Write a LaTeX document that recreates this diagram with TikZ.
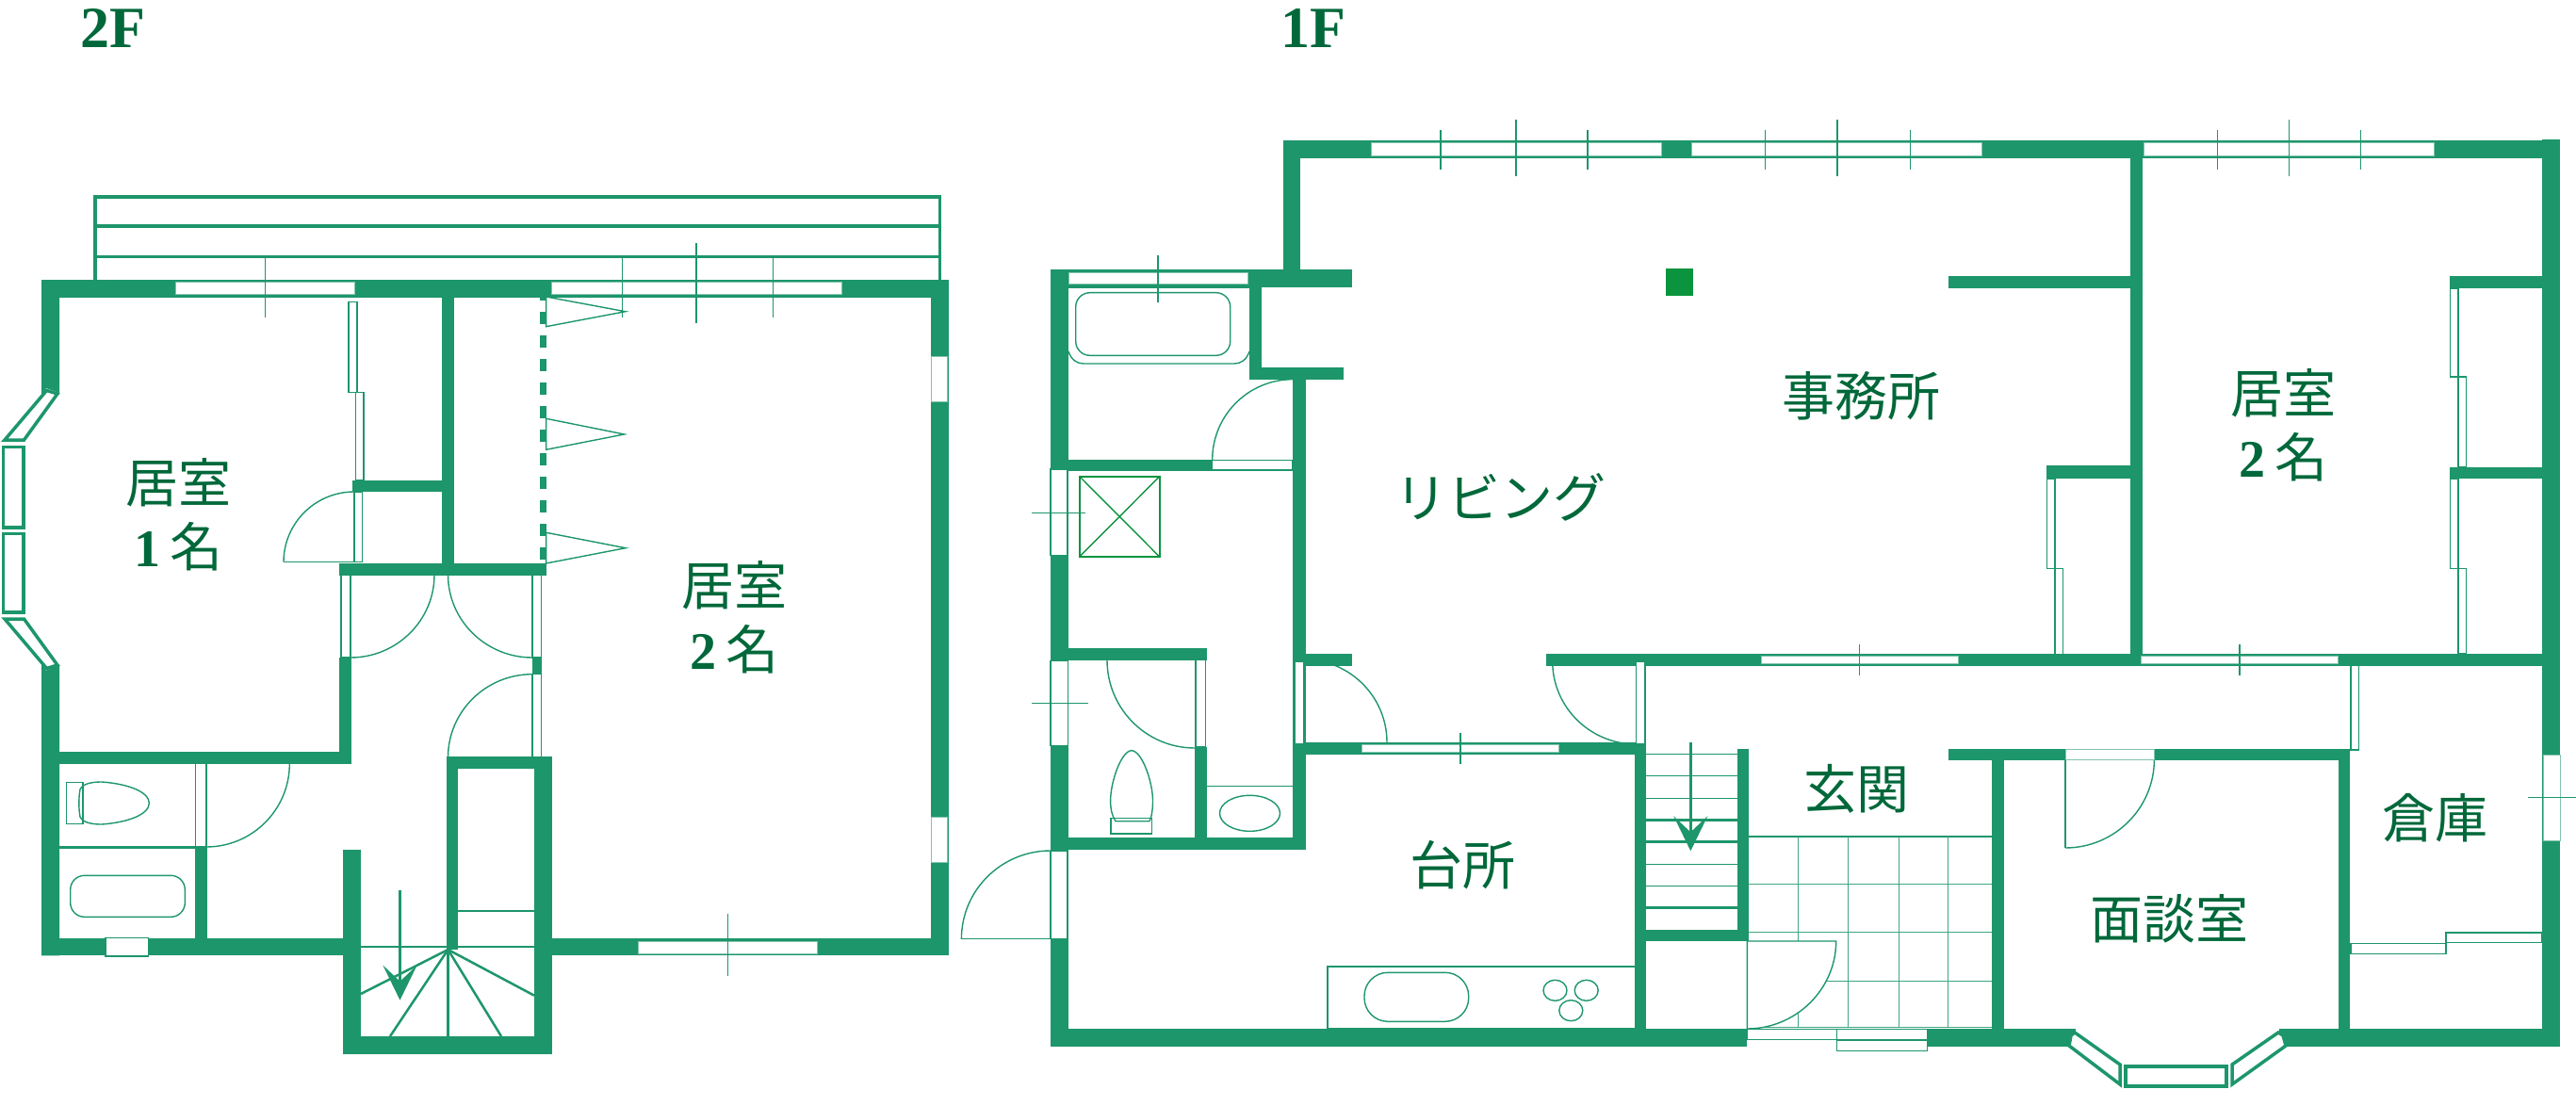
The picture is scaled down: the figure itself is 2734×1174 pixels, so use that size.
\documentclass[tikz,border=0pt]{standalone}
\usepackage{fontspec}
\usepackage{xcolor}
\usetikzlibrary{arrows.meta}
\setmainfont{Liberation Serif}
\newfontfamily\jpfont{Noto Sans CJK JP}
\definecolor{wallgreen}{RGB}{29,150,107}
\definecolor{textgreen}{RGB}{0,104,58}
\definecolor{shaftgreen}{RGB}{10,148,62}
\tikzset{
	wallfill/.style 	= {fill=wallgreen, draw=none},
	window/.style 		= {fill=white, draw=wallgreen!55, line width=1pt},
	frame/.style 		= {fill=white, draw=wallgreen, line width=1.5pt},
	thin line/.style 	= {draw=wallgreen, line width=1.4pt},
	tile line/.style 	= {draw=wallgreen!85, line width=1.1pt},
	mid line/.style 	= {draw=wallgreen, line width=2.5pt},
	deck line/.style 	= {draw=wallgreen, line width=3.5pt},
	bay/.style 			= {fill=white, draw=wallgreen, line width=3.5pt, line join=miter},
	dash wall/.style 	= {draw=wallgreen, line width=7.5pt, dash pattern=on 13pt off 12pt},
	stair arrow/.style 	= {draw=wallgreen, fill=wallgreen, line width=2.5pt, -{Stealth[length=37pt,width=36pt,inset=17pt]}},
	room/.style 		= {text=textgreen, align=center, inner sep=0pt, font=\jpfont\fontsize{56}{68}\selectfont},
	floor/.style 		= {text=textgreen, inner sep=0pt, font=\bfseries\fontsize{62}{62}\selectfont}
}
\newcommand{\Wall}[4]{\fill[wallfill] (#1,#2) rectangle (#3,#4);}
\newcommand{\Win}[4]{\draw[window] (#1,#2) rectangle (#3,#4);}
\newcommand{\Frame}[4]{\draw[frame] (#1,#2) rectangle (#3,#4);}
\newcommand{\Tick}[4]{\draw[thin line] (#1,#2) -- (#3,#4);}
\newcommand{\Swing}[4]{\draw[thin line] (#1,#2) .. controls ({#1+0.552*(#3-#1)},#2) and (#3,{#4+0.552*(#2-#4)}) .. (#3,#4);}
\newcommand{\Num}[1]{{\rmfamily\bfseries #1}}

\begin{document}
\begin{tikzpicture}[x=1pt, y=-1pt]
	\useasboundingbox (0,0) rectangle (2734,1174);

	\node[floor] (floor2) at (120,30) {2F};
	\node[floor] (floor1) at (1394,30) {1F};

	% 2F
	\draw[deck line] (101,297) -- (101,209) -- (997.5,209) -- (997.5,297);
	\draw[deck line] (101,240) -- (997.5,240);
	\draw[deck line] (101,272.3) -- (997.5,272.3);

	\draw[dash wall] (576.5,305.7) -- (576.5,593.7);

	\Swing{376}{522}{301}{596.7}
	\Tick{301}{596.7}{376}{596.7}
	\Swing{372}{698}{461}{610}
	\Swing{565}{698}{475.5}{610}
	\Swing{565}{715.7}{475.5}{804}
	\Swing{218.8}{899}{307.3}{810.7}

	\Wall{44}{297}{1007}{315.7}
	\fill[wallfill] (44,315) -- (63,315) -- (63,417) -- (49,412) -- (44,420) -- cycle;
	\fill[wallfill] (44,704) -- (49,711.7) -- (63,706) -- (63,1014.3) -- (44,1014.3) -- cycle;
	\Wall{44}{996}{364}{1014.3}
	\Wall{586}{996}{1007}{1014.3}
	\Wall{988}{297}{1007}{1014.3}
	\Wall{63}{798}{372.7}{810.7}
	\Wall{360.4}{698}{372.7}{810}
	\Wall{360.4}{597.7}{579.6}{610.7}
	\Wall{469.4}{315}{482}{598}
	\Wall{374}{510}{469.4}{522}
	\Wall{565}{698}{574.7}{715.7}
	\Wall{473.5}{802.7}{586}{816}
	\Wall{473.5}{803}{486}{1008}
	\Wall{567}{803}{586}{1118.7}
	\Wall{364}{901.7}{383}{1118.7}
	\Wall{364}{1100}{586}{1118.7}
	\Wall{207.3}{899}{220}{996}

	\Win{186}{300}{376.7}{312.3}
	\Win{585}{300}{893}{312.3}
	\Win{988}{378}{1005.5}{426.7}
	\Win{988}{867.3}{1005.5}{915}
	\Win{677.3}{999.3}{867.7}{1012}
	\Frame{112}{995.7}{157.6}{1015}

	\draw[bay] (49.5,414.5) -- (61,418) -- (25.5,467) -- (5,467) -- cycle;
	\draw[bay] (3.7,474.5) rectangle (24.8,560);
	\draw[bay] (3.7,566.7) rectangle (24.8,650);
	\draw[bay] (5,657) -- (25.5,657) -- (61,706) -- (49.5,709.5) -- cycle;

	\Frame{369.8}{320.3}{378.8}{416.7}
	\Frame{377.6}{416.7}{386}{510}
	\Frame{376}{522}{384.5}{596.7}
	\Frame{362}{610}{372}{698}
	\Frame{565}{610}{574.7}{698}
	\Frame{565}{715.7}{574.7}{804}
	\Frame{207.3}{810.7}{218.8}{899}

	\draw[mid line] (63,899.3) -- (212,899.3);
	\draw[mid line] (486,967) -- (567,967);
	\draw[mid line] (383,1005) -- (473.5,1005);
	\draw[mid line] (486,1005) -- (567,1005);
	\draw[mid line] (475.5,1008) -- (383,1055);
	\draw[mid line] (475.5,1008) -- (414,1100);
	\draw[mid line] (475.5,1008) -- (475.5,1100);
	\draw[mid line] (475.5,1008) -- (532,1100);
	\draw[mid line] (475.5,1008) -- (567,1056.7);
	\draw[stair arrow] (424.5,945) -- (424.5,1061.7);

	\draw[thin line] (579.6,315) -- (663.8,330.7) -- (579.6,346.7) -- cycle;
	\draw[thin line] (579.6,444.3) -- (662.6,461) -- (579.6,477.3) -- cycle;
	\draw[thin line] (579.6,565.3) -- (664,581.7) -- (579.6,598) -- cycle;

	\Tick{281.2}{272}{281.2}{337}
	\Tick{660.7}{272}{660.7}{337}
	\Tick{738.8}{258}{738.8}{343}
	\Tick{820.7}{272}{820.7}{337}
	\Tick{772.3}{970}{772.3}{1035.7}

	\draw[thin line] (70.2,830.7) rectangle (87.8,874.3);
	\draw[thin line] (85,838) .. controls (88,831) and (100,830) .. (108,830) .. controls (135,832) and (158,840) .. (158.4,852.5) .. controls (158,865) and (135,873) .. (108,875) .. controls (100,875) and (88,874) .. (85,867) .. controls (83.5,860) and (83.5,845) .. (85,838) -- cycle;
	\draw[thin line, rounded corners=15pt] (74.7,929.3) rectangle (196.3,973.3);

	\node[room] (room1f2) at (189,546) {居室\\\Num{1}\hspace{10pt}名};
	\node[room] (room2f2) at (779,655) {居室\\\Num{2}\hspace{10pt}名};

	% 1F
	\Swing{1115}{903}{1020.4}{996.7}
	\Tick{1020.4}{996.7}{1115}{996.7}
	\Swing{1372}{402.7}{1286.7}{488}
	\Swing{1268}{794}{1175}{700.7}
	\Swing{1383.7}{700}{1472}{788}
	\Swing{1736.7}{790}{1647.7}{702}
	\Swing{2192}{900}{2286.4}{806}
	\Tick{2192}{806}{2192}{900}

	\draw[mid line, line width=2pt] (1856,888) -- (2114,888);
	\draw[tile line] (1856,938.7) -- (2114,938.7);
	\draw[tile line] (1856,989.3) -- (2114,989.3);
	\draw[tile line] (1856,1041.7) -- (2114,1041.7);
	\draw[tile line] (1856,1090.7) -- (2114,1090.7);
	\draw[tile line] (1908.4,888) -- (1908.4,1091);
	\draw[tile line] (1961.9,888) -- (1961.9,1091);
	\draw[tile line] (2015.3,888) -- (2015.3,1091);
	\draw[tile line] (2067.4,888) -- (2067.4,1091);
	\draw[thin line, fill=white] (1854.4,1092) -- (1854.4,999) -- (1948.7,999) .. controls (1948.7,1050) and (1906,1092) .. (1854.4,1092) -- cycle;

	\Wall{1115}{286}{1134}{1111}
	\Wall{1115}{286}{1435}{305}
	\Wall{1361.5}{149}{1380}{305}
	\Wall{1361.5}{149}{2717}{168}
	\Wall{1326}{286}{1339}{402.7}
	\Wall{1326}{390}{1426}{402.7}
	\Wall{1372}{402}{1386}{901.7}
	\Wall{1372}{694}{1435}{706.7}
	\Wall{1134}{488.3}{1286.7}{500}
	\Wall{1134}{688.3}{1281}{700.7}
	\Wall{1268}{793}{1281}{889}
	\Wall{1134}{889.3}{1386}{901.7}
	\Wall{1373}{788.3}{1746}{800.7}
	\Wall{1734.7}{788.3}{1747}{1111}
	\Wall{1115}{1092.3}{1854}{1111}
	\Wall{1641}{694}{2699}{706.7}
	\Wall{2697.9}{148}{2716.9}{1111}
	\Wall{2068}{293}{2261}{306}
	\Wall{2261}{149}{2274}{706}
	\Wall{2172}{494.3}{2261}{508}
	\Wall{2600}{293.4}{2698}{306}
	\Wall{2600}{495.5}{2698}{508}
	\Wall{2068}{795}{2494}{807}
	\Wall{2114.3}{795}{2127.4}{1100}
	\Wall{2481.7}{795}{2494}{1111}
	\Wall{2045}{1092.3}{2202.6}{1111}
	\Wall{2419}{1092.3}{2717}{1111}
	\Wall{1843.8}{795}{1856.3}{999.3}
	\Wall{1746}{987}{1856}{999.3}

	\fill[shaftgreen] (1768,285) rectangle (1797,314);

	\Win{1455}{152}{1763.3}{165.6}
	\Win{1795.5}{152}{2103.7}{165.6}
	\Win{2275.5}{152}{2583.5}{165.6}
	\Win{1134}{289.3}{1324}{301.7}
	\Win{1445.4}{790.7}{1654}{798}
	\Win{1869.5}{696}{2078}{704}
	\Win{2272.6}{696}{2481.7}{704}
	\Win{2192}{795.7}{2286.4}{806}
	\Win{2699}{801.7}{2717.8}{892}
	\Frame{1115}{498}{1132.7}{589.3}
	\Frame{1114.8}{701.7}{1133.7}{791.7}
	\Frame{1115}{903.3}{1133}{996.7}
	\Frame{1286.7}{488.3}{1372}{499}
	\Frame{1269}{700.7}{1279.6}{793}
	\Frame{1374}{702.7}{1383.7}{790}
	\Frame{1736.7}{702.7}{1746}{790}
	\Frame{2494.8}{706}{2503.4}{796}
	\Frame{2172.3}{508}{2181}{603.4}
	\Frame{2181}{603.4}{2189.5}{694.5}
	\Frame{2600.6}{306}{2609}{399.8}
	\Frame{2609}{399.8}{2617.4}{495.5}
	\Frame{2600.6}{508}{2609}{603.4}
	\Frame{2609}{603.4}{2617.4}{694}
	\Frame{1854.4}{1092.7}{1949.3}{1103.3}
	\Frame{1949.3}{1092.3}{2045.7}{1104}
	\Frame{1949.3}{1104}{2045.7}{1115.7}
	\Frame{2495}{1001.7}{2595.8}{1012.3}
	\Frame{2595.8}{990}{2698}{1000.7}

	\draw[bay] (2202,1096) -- (2250,1130) -- (2250,1151) -- (2196,1110) -- (2198,1099) -- cycle;
	\draw[bay, line width=4pt] (2256,1132) rectangle (2363,1153);
	\draw[bay] (2418,1096) -- (2369,1130) -- (2369,1151) -- (2426,1110) -- (2423,1099) -- cycle;

	\draw[mid line] (1134,305) -- (1326,305);
	\draw[thin line] (1134,373) .. controls (1137,382) and (1143,386) .. (1150,386) -- (1310,386) .. controls (1317,386) and (1323,382) .. (1326,373);
	\draw[thin line, rounded corners=15pt] (1141.7,310.7) rectangle (1305.7,377.3);
	\draw[thin line, draw=shaftgreen, line width=1.8pt] (1145.7,505.7) rectangle (1230.7,591);
	\draw[thin line, draw=shaftgreen] (1145.7,505.7) -- (1230.7,591);
	\draw[thin line, draw=shaftgreen] (1230.7,505.7) -- (1145.7,591);

	\Tick{1229}{271}{1229}{320.7}
	\Tick{1095}{544.3}{1151.7}{544.3}
	\Tick{1095.4}{746.7}{1154.6}{746.7}
	\Tick{1550}{778.3}{1550}{810.7}
	\Tick{1529}{137.7}{1529}{180}
	\Tick{1609}{127}{1609}{187.4}
	\Tick{1685}{137.7}{1685}{180}
	\Tick{1873.5}{137.7}{1873.5}{180}
	\Tick{1950}{127}{1950}{187.4}
	\Tick{2027.4}{137.7}{2027.4}{180}
	\Tick{2353.4}{137.7}{2353.4}{180}
	\Tick{2429.3}{127}{2429.3}{187.4}
	\Tick{2505.3}{137.7}{2505.3}{180}
	\Tick{1973.7}{684}{1973.7}{716.7}
	\Tick{2376.8}{684}{2376.8}{716.7}
	\Tick{2683}{846.7}{2734}{846.7}

	\draw[thin line] (1201,796.7) .. controls (1212,797) and (1223.5,830) .. (1223.5,850) .. controls (1223.5,860) and (1222,868) .. (1220,871.7) -- (1184,871.7) .. controls (1180,866) and (1178.6,858) .. (1178.6,850) .. controls (1178.6,830) and (1190,797) .. (1201,796.7) -- cycle;
	\draw[thin line] (1179,868.3) rectangle (1222.6,885);
	\draw[thin line] (1281,834.3) -- (1373,834.3);
	\draw[thin line] (1326.5,863.3) ellipse [x radius=32, y radius=19];

	\draw[thin line, line width=2pt] (1409.2,1026) rectangle (1737,1091.7);
	\draw[thin line, rounded corners=25pt] (1448,1032.3) rectangle (1558.7,1084.3);
	\draw[thin line] (1650.5,1051.3) ellipse [x radius=12.5, y radius=11];
	\draw[thin line] (1683.7,1051.3) ellipse [x radius=12.5, y radius=11];
	\draw[thin line] (1667.3,1072.7) ellipse [x radius=12.5, y radius=11];

	\draw[thin line] (1747,800.3) -- (1844,800.3);
	\draw[thin line] (1747,823.7) -- (1844,823.7);
	\draw[thin line] (1747,847.3) -- (1844,847.3);
	\draw[mid line] (1747,870.7) -- (1844,870.7);
	\draw[mid line] (1747,893.7) -- (1844,893.7);
	\draw[thin line] (1747,917.3) -- (1844,917.3);
	\draw[thin line] (1747,940.3) -- (1844,940.3);
	\draw[mid line] (1747,963.7) -- (1844,963.7);
	\draw[stair arrow] (1794.3,788.3) -- (1794.3,903.3);

	\node[room] (living) at (1592,528) {リビング};
	\node[room] (office) at (1975,420) {事務所};
	\node[room] (room2f1) at (2423,451) {居室\\\Num{2}\hspace{10pt}名};
	\node[room] (hall) at (1970,837) {玄関};
	\node[room] (kitchen) at (1552,918) {台所};
	\node[room] (store) at (2584,868) {倉庫};
	\node[room] (meeting) at (2302,975) {面談室};
\end{tikzpicture}
\end{document}
